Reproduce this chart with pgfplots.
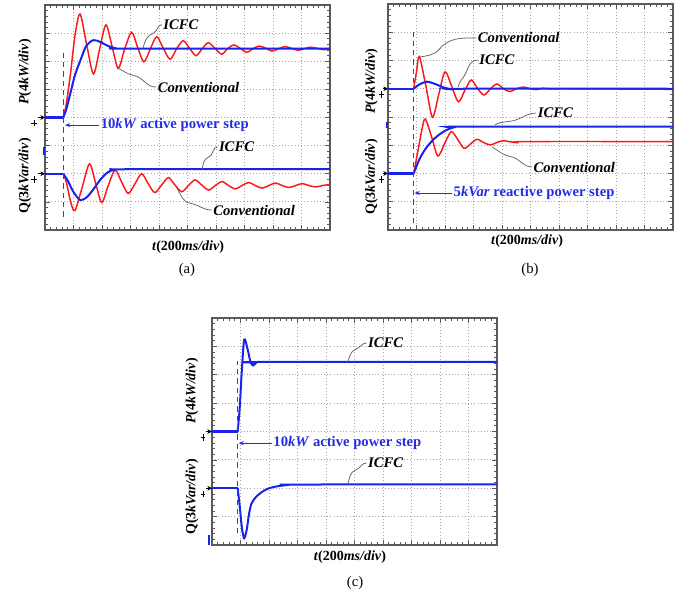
\documentclass[border=0pt]{standalone}
\usepackage{pgfplots}
\pgfplotsset{compat=1.18}
\usetikzlibrary{arrows.meta}
\usepackage{fontspec}
\setmainfont{Liberation Serif}
\definecolor{scred}{RGB}{250,25,25}
\definecolor{scblue}{RGB}{25,35,235}
\definecolor{txtblue}{RGB}{35,45,230}
\pgfplotsset{scopeaxis/.style={scale only axis, width=213.75pt, xmin=0,xmax=10,ymin=0,ymax=8,
  xtick={0,...,10}, ytick={0,...,8}, minor x tick num=4, minor y tick num=4,
  xticklabels={}, yticklabels={}, grid=major,
  major grid style={gray!70, dotted, line width=0.7pt},
  tick align=inside, major tick length=3.5pt, minor tick length=2pt,
  tick style={black!65, line width=0.5pt},
  axis line style={gray!70!black, line width=0.8pt}, clip=false, anchor=south west}}
\newcommand{\lbl}[1]{{\fontsize{11}{13}\selectfont\bfseries\itshape #1}}
\newcommand{\alb}[1]{{\fontsize{10.5}{12}\selectfont\bfseries #1}}
\tikzset{leader/.style={gray!75!black, line width=0.55pt},
  dashv/.style={gray!60!black, dash pattern=on 4pt off 3pt, line width=0.6pt},
  chm/.style={-{Stealth[length=3.5pt,width=3.5pt]}, line width=0.6pt},
  redt/.style={scred, line width=1.1pt, smooth},
  redf/.style={scred, line width=1.6pt},
  bluet/.style={scblue, line width=1.5pt, smooth},
  bluef/.style={scblue, line width=1.6pt}}
\begin{document}
\begin{tikzpicture}
\useasboundingbox (0,0) rectangle (515.25pt,450.75pt);
% ---------------- (a)
\begin{axis}[scopeaxis, at={(33.75pt,278.25pt)}, height=168.75pt]
\addplot[redf] coordinates {(0,4) (0.64,4)};
\addplot[redt] coordinates {(0.64,4) (0.75,4.5) (0.9,5.6) (1.05,6.9) (1.23,7.68) (1.46,6.6) (1.70,5.55) (1.92,6.45) (2.14,7.29) (2.36,6.5) (2.57,5.75) (2.80,6.45) (3.04,7.03) (3.25,6.5) (3.47,5.98) (3.70,6.45) (3.92,6.87) (4.15,6.46) (4.39,6.07) (4.62,6.45) (4.85,6.73) (5.07,6.46) (5.30,6.20) (5.52,6.45) (5.73,6.66) (5.96,6.46) (6.20,6.25) (6.41,6.45) (6.62,6.58) (6.85,6.46) (7.08,6.32) (7.30,6.45) (7.52,6.54) (7.75,6.46) (7.97,6.36) (8.20,6.45) (8.42,6.52) (8.65,6.46) (8.88,6.39) (9.10,6.45) (9.32,6.50) (9.55,6.46) (9.78,6.41) (10,6.45)};
\addplot[bluef] coordinates {(0,4) (0.64,4)};
\addplot[bluet] coordinates {(0.64,4) (0.75,4.3) (0.9,4.9) (1.05,5.5) (1.23,6.0) (1.45,6.55) (1.7,6.75) (1.95,6.68) (2.2,6.55) (2.45,6.47) (2.8,6.45) (10,6.45)};
\addplot[redf] coordinates {(0,2) (0.64,2)};
\addplot[redt] coordinates {(0.64,2) (0.75,1.7) (0.9,1.0) (1.05,0.69) (1.30,1.5) (1.56,2.35) (1.78,1.65) (1.99,0.98) (2.22,1.58) (2.46,2.13) (2.69,1.7) (2.92,1.30) (3.15,1.63) (3.39,2.00) (3.62,1.65) (3.85,1.33) (4.09,1.6) (4.33,1.86) (4.56,1.6) (4.80,1.36) (5.03,1.58) (5.27,1.78) (5.50,1.6) (5.74,1.42) (5.97,1.58) (6.21,1.72) (6.44,1.58) (6.68,1.46) (6.91,1.58) (7.15,1.69) (7.38,1.58) (7.62,1.49) (7.85,1.58) (8.09,1.67) (8.32,1.58) (8.56,1.51) (8.79,1.58) (9.03,1.65) (9.26,1.58) (9.50,1.53) (9.73,1.58) (10,1.62)};
\addplot[bluef] coordinates {(0,2) (0.64,2)};
\addplot[bluet] coordinates {(0.64,2) (0.8,1.75) (1.0,1.35) (1.23,1.07) (1.45,1.15) (1.7,1.45) (1.95,1.8) (2.2,2.05) (2.46,2.15) (2.8,2.16) (10,2.16)};
\draw[dashv] (0.65,0.47)--(0.65,6.4);
\draw[leader] (3.44,6.47) to[out=75,in=200] (3.8,7.0) to[out=20,in=180] (4.10,7.30);
\node[anchor=west,inner sep=1pt] at (4.10,7.30) {\lbl{ICFC}};
\draw[leader] (2.53,5.76) to[out=-20,in=170] (3.1,5.5) to[out=-10,in=180] (3.90,5.08);
\node[anchor=west,inner sep=1pt] at (3.90,5.08) {\lbl{Conventional}};
\draw[leader] (5.51,2.13) to[out=80,in=200] (5.75,2.6) to[out=20,in=180] (6.05,2.95);
\node[anchor=west,inner sep=1pt] at (6.05,2.95) {\lbl{ICFC}};
\draw[leader] (4.63,1.49) to[out=-60,in=170] (5.1,0.95) to[out=-10,in=180] (5.85,0.71);
\node[anchor=west,inner sep=1pt] at (5.85,0.71) {\lbl{Conventional}};
\draw[txtblue, line width=0.7pt, -{Stealth[length=4pt,width=3pt]}] (1.90,3.73)--(0.70,3.73);
\node[anchor=west,inner sep=1pt,text=txtblue] at (1.90,3.73) {\fontsize{11}{13}\selectfont\bfseries 10\textit{kW} active power step};
\draw[chm] (-0.25,4)--(0,4); \draw[line width=0.5pt] (-0.38,3.68)--(-0.38,3.92) (-0.48,3.80)--(-0.28,3.80);
\draw[chm] (-0.25,2)--(0,2); \draw[line width=0.5pt] (-0.38,1.68)--(-0.38,1.92) (-0.48,1.80)--(-0.28,1.80);
\draw[scblue, line width=1.5pt] (-0.03,2.67)--(-0.03,2.95);
\node[rotate=90] at (-0.70,5.62) {\alb{\textit{P}(4\textit{kW/div})}};
\node[rotate=90] at (-0.70,1.92) {\alb{Q(3\textit{kVar/div})}};
\node at (5.02,-0.60) {\alb{\textit{t}(200\textit{ms/div})}};
\node at (4.98,-1.42) {\fontsize{11}{13}\selectfont (a)};
\end{axis}
% ---------------- (b)
\begin{axis}[scopeaxis, at={(291pt,278.25pt)}, height=169.5pt]
\addplot[redf] coordinates {(0,5) (0.9,5)};
\addplot[redt] coordinates {(0.9,5) (1.0,5.6) (1.1,6.14) (1.33,5.1) (1.56,3.99) (1.78,4.8) (2.0,5.6) (2.23,5.1) (2.47,4.54) (2.7,4.95) (2.92,5.31) (3.15,5.0) (3.37,4.78) (3.6,5.0) (3.82,5.17) (4.05,5.0) (4.28,4.9) (4.5,5.0) (4.75,5.06) (5.0,5.0) (5.2,4.97) (5.45,5.02) (5.7,4.99) (6.2,5.0) (10,4.98)};
\addplot[bluef] coordinates {(0,5) (0.9,5)};
\addplot[bluet] coordinates {(0.9,5) (1.1,5.15) (1.37,5.25) (1.7,5.15) (2.0,5.03) (2.3,4.98) (2.6,5.0) (10,5.0)};
\addplot[redf] coordinates {(0,2) (0.9,2)};
\addplot[redt] coordinates {(0.9,2) (1.05,2.8) (1.2,3.6) (1.31,3.93) (1.53,3.3) (1.75,2.62) (1.98,3.05) (2.22,3.48) (2.45,3.2) (2.67,2.89) (2.9,3.05) (3.12,3.21) (3.35,3.1) (3.59,3.01) (3.82,3.1) (4.05,3.16) (4.3,3.12) (4.55,3.09) (4.8,3.13) (10,3.13)};
\addplot[bluef] coordinates {(0,2) (0.9,2)};
\addplot[bluet] coordinates {(0.9,2) (1.1,2.5) (1.3,2.85) (1.5,3.1) (1.7,3.3) (1.9,3.45) (2.1,3.56) (2.3,3.63) (2.6,3.66) (10,3.66)};
\draw[dashv] (0.9,0.24)--(0.9,7.0);
\draw[leader] (1.09,6.12) to[out=10,in=230] (1.8,6.4) to[out=50,in=180] (3.10,6.80);
\node[anchor=west,inner sep=1pt] at (3.10,6.80) {\lbl{Conventional}};
\draw[leader] (2.46,5.06) to[out=80,in=250] (2.75,5.6) to[out=70,in=180] (3.15,6.02);
\node[anchor=west,inner sep=1pt] at (3.15,6.02) {\lbl{ICFC}};
\draw[leader] (3.75,3.72) to[out=30,in=200] (4.5,3.9) to[out=20,in=180] (5.20,4.14);
\node[anchor=west,inner sep=1pt] at (5.20,4.14) {\lbl{ICFC}};
\draw[leader] (3.65,2.94) to[out=-30,in=170] (4.3,2.6) to[out=-10,in=180] (5.05,2.23);
\node[anchor=west,inner sep=1pt] at (5.05,2.23) {\lbl{Conventional}};
\draw[txtblue, line width=0.7pt, -{Stealth[length=4pt,width=3pt]}] (2.25,1.31)--(0.93,1.31);
\node[anchor=west,inner sep=1pt,text=txtblue] at (2.25,1.31) {\fontsize{11}{13}\selectfont\bfseries 5\textit{kVar} reactive power step};
\draw[chm] (-0.16,5)--(0,5); \draw[line width=0.5pt] (-0.22,4.68)--(-0.22,4.92) (-0.3,4.80)--(-0.14,4.80);
\draw[chm] (-0.16,2)--(0,2); \draw[line width=0.5pt] (-0.22,1.68)--(-0.22,1.92) (-0.3,1.80)--(-0.14,1.80);
\draw[scblue, line width=1.5pt] (-0.05,3.6)--(-0.05,3.82);
\node[rotate=90] at (-0.58,5.27) {\alb{\textit{P}(4\textit{kW/div})}};
\node[rotate=90] at (-0.58,1.88) {\alb{Q(3\textit{kVar/div})}};
\node at (4.88,-0.38) {\alb{\textit{t}(200\textit{ms/div})}};
\node at (4.98,-1.42) {\fontsize{11}{13}\selectfont (b)};
\end{axis}
% ---------------- (c)
\begin{axis}[scopeaxis, at={(159pt,42pt)}, height=170.25pt]
\addplot[bluef] coordinates {(0,4) (0.9,4)};
\addplot[bluet] coordinates {(0.9,4) (0.97,4.8) (1.05,6.2) (1.13,7.24) (1.25,6.9) (1.35,6.45) (1.44,6.33) (1.55,6.42) (1.65,6.45) (10,6.45)};
\addplot[bluef] coordinates {(0,2) (0.9,2)};
\addplot[bluet] coordinates {(0.9,2) (0.97,1.4) (1.05,0.6) (1.13,0.24) (1.22,0.55) (1.3,1.1) (1.38,1.45) (1.46,1.59) (1.6,1.75) (1.8,1.9) (2.0,2.0) (2.3,2.07) (2.6,2.11) (2.9,2.13) (10,2.14)};
\draw[dashv] (0.9,0.42)--(0.9,6.5);
\draw[leader] (4.77,6.45) to[out=75,in=200] (5.05,6.9) to[out=20,in=180] (5.42,7.12);
\node[anchor=west,inner sep=1pt] at (5.42,7.12) {\lbl{ICFC}};
\draw[leader] (4.77,2.15) to[out=75,in=200] (5.05,2.65) to[out=20,in=180] (5.42,2.89);
\node[anchor=west,inner sep=1pt] at (5.42,2.89) {\lbl{ICFC}};
\draw[txtblue, line width=0.7pt, -{Stealth[length=4pt,width=3pt]}] (2.10,3.59)--(0.93,3.59);
\node[anchor=west,inner sep=1pt,text=txtblue] at (2.10,3.59) {\fontsize{11}{13}\selectfont\bfseries 10\textit{kW} active power step};
\draw[chm] (-0.2,4)--(0,4); \draw[line width=0.5pt] (-0.32,3.68)--(-0.32,3.92) (-0.4,3.80)--(-0.24,3.80);
\draw[chm] (-0.2,2)--(0,2); \draw[line width=0.5pt] (-0.32,1.68)--(-0.32,1.92) (-0.4,1.80)--(-0.24,1.80);
\draw[scblue, line width=1.5pt] (-0.12,0)--(-0.12,0.35);
\node[rotate=90] at (-0.70,5.43) {\alb{\textit{P}(4\textit{kW/div})}};
\node[rotate=90] at (-0.70,1.69) {\alb{Q(3\textit{kVar/div})}};
\node at (4.84,-0.42) {\alb{\textit{t}(200\textit{ms/div})}};
\node at (5.02,-1.34) {\fontsize{11}{13}\selectfont (c)};
\end{axis}
\end{tikzpicture}
\end{document}
